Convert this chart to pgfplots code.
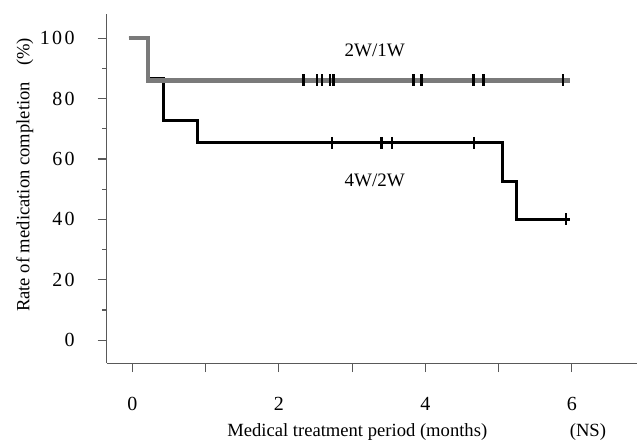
\documentclass[border=0pt]{standalone}
\usepackage{fontspec}
\setmainfont{Liberation Serif}
\usepackage{pgfplots}
\pgfplotsset{compat=1.18}
\usetikzlibrary{calc}

\definecolor{kmgray}{gray}{0.48}
\definecolor{axgray}{gray}{0.35}

\begin{document}
\begin{tikzpicture}
\begin{axis}[
  scale only axis,
  width=265pt, height=174.5pt,
  xmin=-0.35, xmax=6.89,
  ymin=-7.6, ymax=108,
  axis lines=left,
  axis line style={-, axgray, line width=0.6pt},
  tick style={axgray, line width=0.6pt},
  tick align=outside,
  major tick length=4.5pt,
  minor tick length=2.3pt,
  xtick={0,1,2,3,4,5,6},
  xticklabels={0,,2,,4,,6},
  ytick={0,20,40,60,80,100},
  yticklabels={0,2\hspace{1.2pt}0,4\hspace{1.2pt}0,6\hspace{1.2pt}0,8\hspace{1.2pt}0,1\hspace{1.2pt}0\hspace{1.2pt}0},
  minor ytick={10,30,50,70,90},
  /pgf/number format/assume math mode=true,
  tick label style={font=\fontsize{10}{12}\selectfont},
  xticklabel shift=9pt,
  yticklabel shift=8pt,
  clip=false,
]
% 4W/2W
\addplot[const plot, black, line width=1.5pt] coordinates {
  (-0.05,100) (0.21,86.7) (0.42,72.8) (0.885,65.3) (5.05,52.5) (5.24,40) (5.98,40)
};
% 2W/1W
\addplot[const plot, kmgray, line width=2.1pt] coordinates {
  (-0.05,100) (0.21,86) (5.98,86)
};
% censored marks
\addplot[only marks, mark=|, mark size=3pt, black, mark options={line width=1.3pt}] coordinates {
  (2.34,86) (2.52,86) (2.59,86) (2.70,86) (2.75,86) (3.84,86) (3.95,86) (4.66,86) (4.79,86) (5.88,86)
};
\addplot[only marks, mark=|, mark size=3pt, black, mark options={line width=1.1pt}] coordinates {
  (2.73,65.3) (3.40,65.3) (3.54,65.3) (4.66,65.3) (5.92,40)
};
\node[font=\fontsize{9.5}{11}\selectfont] at (axis cs:3.31,96.1) {2W/1W};
\node[font=\fontsize{9.5}{11}\selectfont] at (axis cs:3.31,53.0) {4W/2W};
\coordinate (xl) at (axis cs:3.07,-7.6);
\coordinate (ns) at (axis cs:6.22,-7.6);
\coordinate (yl) at (axis cs:-0.35,54.7);
\end{axis}
\node[font=\fontsize{9.3}{10}\selectfont] at ($(xl)+(0pt,-34.5pt)$) {Medical treatment period (months)};
\node[font=\fontsize{9.3}{10}\selectfont] at ($(ns)+(0pt,-34.5pt)$) {(NS)};
\node[font=\fontsize{9.3}{10}\selectfont, rotate=90] at ($(yl)+(-41pt,0pt)$) {Rate of medication completion\hspace{8pt}(\%)};
\pgfresetboundingbox
\path[use as bounding box] ($(current axis.south west)+(-53.35pt,-40.5pt)$) rectangle ($(current axis.north east)+(0pt,7pt)$);
\end{tikzpicture}
\end{document}
